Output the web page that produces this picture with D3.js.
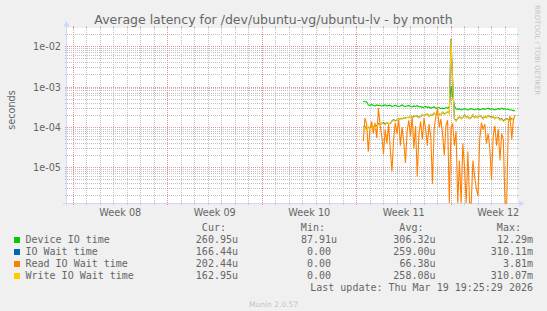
<!DOCTYPE html>
<html>
<head>
<meta charset="utf-8">
<script src="https://cdn.jsdelivr.net/npm/d3@7"></script>
<style>
  body { margin: 0; background: #f0f0f0; }
  svg { display: block; }
  text { font-family: "DejaVu Sans", sans-serif; fill: #666; }
  .mono { font-family: "DejaVu Sans Mono", monospace; font-size: 10px; }
</style>
</head>
<body>
<svg width="547" height="311"></svg>
<script>
// values in microseconds, one sample every 3 hours from Mar 08 12:00
const deviceUs = [440, 430, 430, 360, 350, 370, 350, 340, 360, 350, 350,
  340, 350, 360, 340, 350, 350, 330, 340, 350, 340,
  330, 340, 360, 340, 330, 340, 350, 330, 320, 340,
  330, 350, 320, 330, 310, 320, 330, 310, 320, 300,
  310, 320, 300, 300, 310, 290, 300, 290, 310, 300, 320,
  1050, 600, 340,
  290, 280, 290, 270, 280, 290, 280, 270, 280, 290, 280, 270,
  280, 290, 270, 280, 290, 280, 290, 300, 280, 290, 280, 270, 280, 290,
  280, 300, 280, 290, 280, 280, 270, 270, 260, 261];

const ioWaitUs = [100, 105, 90, 100, 95, 105, 105, 100, 110,
  125, 115, 125, 130, 120, 130, 125, 125, 145,
  155, 145, 155, 160, 165, 165, 170, 170, 175,
  175, 185, 180, 185, 195, 190, 175, 185, 205,
  195, 205, 215, 190, 205, 200, 225, 205, 195,
  215, 205, 235, 215, 225, 245, 225,
  15500, 1350, 165,
  145, 165, 185, 165, 175, 205, 175, 185, 165, 175, 205, 175,
  185, 175, 195, 185, 165, 185, 175, 195, 185, 175, 185, 165, 175, 175,
  155, 165, 145, 155, 165, 155, 145, 165, 165, 166];

const readUs = [45, 170, 120, 25, 90, 140, 70, 130, 55, 300,
  110, 60, 22, 90, 40, 120, 30, 8, 50, 130,
  70, 160, 35, 100, 45, 13, 80, 150, 60, 190,
  30, 110, 6, 70, 140, 50, 170, 90, 35, 120,
  60, 4, 90, 180, 300, 100, 160, 70, 20, 110,
  150, 0, 100, 120, 35, 80, 0, 15, 0, 40,
  10, 0, 25, 0, 0, 15, 6, 3, 2, 50,
  130, 90, 120, 40, 70, 30, 5, 60, 110, 35,
  90, 15, 70, 50, 0, 0, 140, 190, 50, 160, 202];

const writeUs = [95, 100, 85, 105, 90, 100, 110, 95, 105,
  120, 110, 130, 125, 115, 135, 120, 130, 140,
  150, 140, 160, 155, 170, 160, 175, 165, 180,
  170, 190, 175, 180, 200, 185, 170, 190, 210,
  190, 200, 220, 185, 210, 195, 230, 200, 190,
  220, 200, 240, 210, 230, 250, 220,
  15000, 1300, 160,
  140, 170, 190, 160, 180, 200, 170, 190, 160, 180, 210, 170,
  190, 170, 200, 180, 160, 190, 170, 200, 180, 170, 190, 160, 180, 170,
  150, 160, 140, 150, 160, 150, 140, 160, 170, 163];

const seriesNames = ["Device IO time", "IO Wait time", "Read IO Wait time", "Write IO Wait time"];
const seriesColors = ["#00cc00", "#0066b3", "#ff8000", "#ffcc00"];
const curText = ["260.95u", "166.44u", "202.44u", "162.95u"];
const minText = ["87.91u", "0.00", "0.00", "0.00"];
const avgText = ["306.32u", "259.00u", "66.38u", "258.08u"];
const maxText = ["12.29m", "310.11m", "3.81m", "310.07m"];

const weekLabels = ["Week 08", "Week 09", "Week 10", "Week 11", "Week 12"];
const yTickValues = [1e-5, 1e-4, 1e-3, 1e-2];
const yTickLabels = ["1e-05", "1e-04", "1e-03", "1e-02"];

const viewStart = new Date(Date.UTC(2026, 1, 14, 13, 20)),
      viewEnd = new Date(Date.UTC(2026, 2, 19, 21, 20)),
      dataStart = Date.UTC(2026, 2, 8, 12),
      stepMs = 3 * 3600 * 1000;

const svg = d3.select("svg"),
      width = +svg.attr("width"),
      height = +svg.attr("height");

const plot = {left: 67, right: 517, top: 28, bottom: 203};

const x = d3.scaleUtc()
  .domain([viewStart, viewEnd])
  .range([plot.left, plot.right]);

const y = d3.scaleLog()
  .domain([1.33e-6, 2.91e-2])
  .range([plot.bottom, plot.top])
  .clamp(true);

const crisp = v => Math.floor(v) + 0.5;

svg.append("rect")
  .attr("width", width).attr("height", height)
  .attr("fill", "#f0f0f0");

svg.append("rect")
  .attr("x", plot.left).attr("y", plot.top)
  .attr("width", plot.right - plot.left).attr("height", plot.bottom - plot.top)
  .attr("fill", "#fff");

const grid = svg.append("g").attr("class", "grid");

// horizontal grid: 2..9 minor, decades major
const minorY = [];
for (let e = -6; e <= -2; e++) {
  for (let k = 2; k <= 9; k++) {
    const v = k * Math.pow(10, e);
    if (v > y.domain()[0] && v < y.domain()[1]) minorY.push(v);
  }
}

function hLines(values, color) {
  grid.selectAll(null)
    .data(values)
    .enter().append("line")
    .attr("x1", plot.left).attr("x2", plot.right)
    .attr("y1", d => crisp(y(d))).attr("y2", d => crisp(y(d)))
    .attr("stroke", color)
    .attr("stroke-dasharray", "1,1");
  grid.selectAll(null)
    .data(values)
    .enter().append("path")
    .attr("d", d => `M${plot.left - 2},${crisp(y(d))}h2M${plot.right},${crisp(y(d))}h2`)
    .attr("stroke", color);
}

function vLines(values, color) {
  grid.selectAll(null)
    .data(values)
    .enter().append("line")
    .attr("x1", d => crisp(x(d))).attr("x2", d => crisp(x(d)))
    .attr("y1", plot.top).attr("y2", plot.bottom)
    .attr("stroke", color)
    .attr("stroke-dasharray", "1,1");
  grid.selectAll(null)
    .data(values)
    .enter().append("path")
    .attr("d", d => `M${crisp(x(d))},${plot.top - 2}v2M${crisp(x(d))},${plot.bottom}v2`)
    .attr("stroke", color);
}

const sundays = d3.utcSunday.range(viewStart, viewEnd);
const days = d3.utcDay.range(viewStart, viewEnd).filter(d => d.getUTCDay() !== 0);

hLines(minorY, "#c2c2c2");
vLines(days, "#c2c2c2");
hLines(yTickValues, "#e39494");
vLines(sundays, "#e39494");

// axes
const axisColor = "#cfd6f8";
svg.append("line")
  .attr("x1", plot.left - 4).attr("x2", plot.right + 3)
  .attr("y1", plot.bottom + 0.5).attr("y2", plot.bottom + 0.5)
  .attr("stroke", axisColor);
svg.append("line")
  .attr("x1", plot.left - 0.5).attr("x2", plot.left - 0.5)
  .attr("y1", plot.bottom + 3).attr("y2", plot.top - 3)
  .attr("stroke", axisColor);
svg.append("path")
  .attr("d", `M${plot.right + 2},${plot.bottom - 2.5}L${plot.right + 7.5},${plot.bottom + 0.5}L${plot.right + 2},${plot.bottom + 3.5}Z`)
  .attr("fill", axisColor);
svg.append("path")
  .attr("d", `M${plot.left - 3.5},${plot.top - 1.5}L${plot.left - 0.5},${plot.top - 7}L${plot.left + 2.5},${plot.top - 1.5}Z`)
  .attr("fill", axisColor);

// tick labels
svg.append("g").selectAll("text")
  .data(yTickValues)
  .enter().append("text")
  .attr("x", plot.left - 6)
  .attr("y", d => y(d) + 3.5)
  .attr("text-anchor", "end")
  .style("font-size", "9.7px")
  .text((d, i) => yTickLabels[i]);

svg.append("g").selectAll("text")
  .data(weekLabels)
  .enter().append("text")
  .attr("x", (d, i) => x(d3.utcHour.offset(sundays[i], 84)))
  .attr("y", plot.bottom + 13)
  .attr("text-anchor", "middle")
  .style("font-size", "9.7px")
  .text(d => d);

svg.append("text")
  .attr("transform", "translate(14.5,110) rotate(-90)")
  .attr("text-anchor", "middle")
  .style("font-size", "9.7px")
  .text("seconds");

svg.append("text")
  .attr("x", width / 2).attr("y", 24)
  .attr("text-anchor", "middle")
  .style("font-size", "12.5px")
  .text("Average latency for /dev/ubuntu-vg/ubuntu-lv - by month");

svg.append("text")
  .attr("transform", "translate(535,5) rotate(90)")
  .style("font-size", "7px")
  .style("fill", "#c4c4c4")
  .text("RRDTOOL / TOBI OETIKER");

// data lines
svg.append("clipPath").attr("id", "plot-clip")
  .append("rect")
  .attr("x", plot.left).attr("y", plot.top)
  .attr("width", plot.right - plot.left).attr("height", plot.bottom - plot.top + 1);

const series = [deviceUs, ioWaitUs, readUs, writeUs].map(vals =>
  vals.map((v, i) => ({t: new Date(dataStart + i * stepMs), v: v * 1e-6})));

const line = d3.line()
  .x(d => x(d.t))
  .y(d => y(Math.max(d.v, 1e-8)));

svg.append("g")
  .attr("clip-path", "url(#plot-clip)")
  .selectAll("path")
  .data(series)
  .enter().append("path")
  .attr("d", line)
  .attr("fill", "none")
  .attr("stroke", (d, i) => seriesColors[i])
  .attr("stroke-width", 1.1);

// legend
const colEnds = [238, 337, 435.5, 533];
const charW = 6.02;
const endX = (s, col) => /\d$/.test(s) ? colEnds[col] - charW : colEnds[col];

const legend = svg.append("g").attr("class", "mono");

legend.selectAll(".hdr")
  .data(["Cur:", "Min:", "Avg:", "Max:"])
  .enter().append("text")
  .attr("class", "mono")
  .attr("x", (d, i) => colEnds[i] - 2 * charW)
  .attr("y", 231)
  .attr("text-anchor", "end")
  .text(d => d);

const rows = legend.selectAll(".row")
  .data(seriesNames)
  .enter().append("g")
  .attr("transform", (d, i) => `translate(0,${243 + i * 12})`);

rows.append("rect")
  .attr("x", 14).attr("y", -6)
  .attr("width", 6).attr("height", 6)
  .attr("fill", (d, i) => seriesColors[i]);

rows.append("text")
  .attr("class", "mono")
  .attr("x", 25.5)
  .text(d => d);

[curText, minText, avgText, maxText].forEach((col, c) => {
  rows.append("text")
    .attr("class", "mono")
    .attr("x", (d, i) => endX(col[i], c))
    .attr("text-anchor", "end")
    .text((d, i) => col[i]);
});

legend.append("text")
  .attr("class", "mono")
  .attr("x", colEnds[3])
  .attr("y", 291)
  .attr("text-anchor", "end")
  .text("Last update: Thu Mar 19 19:25:29 2026");

svg.append("text")
  .attr("x", width / 2).attr("y", 306.5)
  .attr("text-anchor", "middle")
  .style("font-size", "7.5px")
  .style("fill", "#c4c4c4")
  .text("Munin 2.0.57");
</script>
</body>
</html>
